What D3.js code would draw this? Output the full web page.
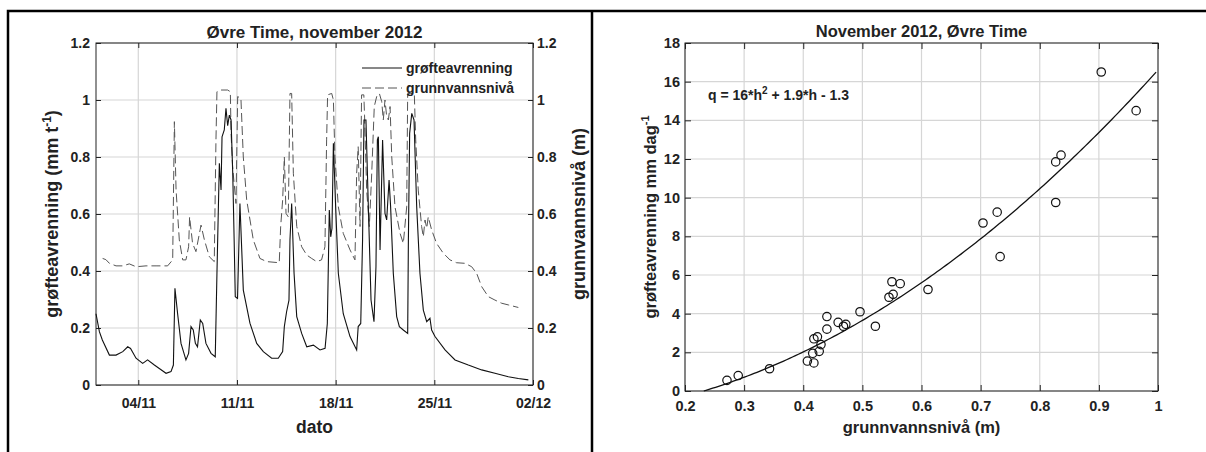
<!DOCTYPE html>
<html lang="no">
<head>
<meta charset="UTF-8">
<title>Øvre Time, november 2012</title>
<script src="https://d3js.org/d3.v7.min.js"></script>
<style>
  body { margin: 0; background: #fff; }
  svg text { font-family: "Liberation Sans", Arial, sans-serif; font-weight: bold; fill: #222; }
</style>
</head>
<body>
<div id="chart"></div>
<script>
// ---- data ----
// time series: days after 1 Nov 2012 00:00
const drainDays = [0.00, 0.24, 0.45, 0.95, 1.42, 1.90, 2.25, 2.45, 2.84, 3.31, 3.66, 4.14, 4.49, 4.97, 5.32, 5.49, 5.60, 5.79, 6.03, 6.38,
  6.57, 6.74, 6.90, 7.05, 7.20, 7.40, 7.57, 7.80, 8.16, 8.46, 8.58, 8.75, 8.87, 8.94, 9.10, 9.22, 9.34, 9.46, 9.58, 9.70,
  9.80, 9.88, 10.04, 10.21, 10.45, 10.92, 11.40, 11.87, 12.46, 12.93, 13.24, 13.36, 13.52, 13.69, 13.76, 13.88, 14.05, 14.24, 14.59, 14.95,
  15.42, 15.89, 16.25, 16.41, 16.55, 16.65, 16.74, 16.84, 17.00, 17.19, 17.54, 18.02, 18.49, 18.60, 18.78, 18.91, 19.01, 19.15, 19.32, 19.51,
  19.72, 19.86, 19.96, 20.03, 20.15, 20.33, 20.50, 20.62, 20.79, 20.90, 21.09, 21.33, 21.52, 21.80, 22.11, 22.16, 22.25, 22.40, 22.56, 22.75,
  22.98, 23.22, 23.46, 23.69, 23.81, 24.05, 24.76, 25.47, 26.41, 27.36, 28.30, 29.25, 29.96, 30.67];
const drainVals = [0.250, 0.187, 0.158, 0.105, 0.105, 0.117, 0.134, 0.128, 0.094, 0.076, 0.088, 0.070, 0.058, 0.041, 0.047, 0.070, 0.339, 0.250, 0.146, 0.088,
  0.111, 0.205, 0.193, 0.146, 0.134, 0.228, 0.216, 0.146, 0.111, 0.099, 0.392, 0.778, 0.684, 0.871, 0.895, 0.971, 0.910, 0.947, 0.930, 0.743,
  0.509, 0.310, 0.304, 0.637, 0.333, 0.217, 0.146, 0.117, 0.094, 0.094, 0.117, 0.205, 0.257, 0.298, 0.509, 0.637, 0.392, 0.240, 0.181, 0.134,
  0.140, 0.123, 0.129, 0.216, 0.614, 0.520, 0.550, 0.848, 0.625, 0.392, 0.250, 0.170, 0.123, 0.205, 0.216, 0.509, 0.930, 0.930, 0.625, 0.298,
  0.222, 0.415, 0.860, 0.871, 0.474, 0.860, 0.602, 0.579, 0.719, 0.625, 0.392, 0.240, 0.205, 0.193, 0.181, 0.509, 0.883, 0.953, 0.930, 0.625,
  0.392, 0.263, 0.222, 0.234, 0.193, 0.170, 0.123, 0.088, 0.070, 0.053, 0.041, 0.029, 0.023, 0.018];

const gwDays = [0.47, 0.70, 0.95, 1.42, 1.90, 2.36, 2.84, 3.55, 4.26, 5.08, 5.44, 5.56, 5.68, 5.91, 6.15, 6.38, 6.57, 6.64, 6.85, 7.09,
  7.45, 7.69, 8.04, 8.39, 8.51, 8.58, 8.87, 9.34, 9.53, 9.58, 9.69, 9.93, 10.05, 10.28, 10.45, 10.69, 11.16, 11.63, 12.10, 13.00,
  13.10, 13.24, 13.36, 13.48, 13.64, 13.76, 13.88, 14.00, 14.24, 14.59, 14.95, 15.30, 15.65, 16.00, 16.24, 16.36, 16.43, 16.72, 16.84, 16.95,
  17.19, 17.54, 18.02, 18.37, 18.49, 18.60, 18.73, 18.84, 19.00, 19.05, 19.20, 19.39, 19.56, 19.74, 19.91, 20.10, 20.27, 20.38, 20.50, 20.62,
  20.74, 20.86, 20.98, 21.21, 21.57, 21.80, 22.04, 22.11, 22.30, 22.58, 22.68, 22.86, 23.10, 23.22, 23.34, 23.46, 23.57, 23.81, 24.16, 24.64,
  25.11, 25.58, 26.17, 26.65, 27.00, 27.36, 27.83, 28.30, 28.77, 29.25, 29.96];
const gwVals = [0.444, 0.440, 0.427, 0.418, 0.418, 0.425, 0.415, 0.418, 0.418, 0.418, 0.439, 0.924, 0.684, 0.509, 0.439, 0.439, 0.485, 0.590, 0.497, 0.468,
  0.561, 0.509, 0.450, 0.433, 0.860, 1.029, 1.035, 1.035, 1.029, 0.883, 0.766, 0.637, 1.012, 1.006, 0.800, 0.649, 0.509, 0.444, 0.433, 0.429,
  0.556, 0.649, 0.800, 0.602, 0.590, 1.023, 1.023, 0.743, 0.556, 0.485, 0.456, 0.444, 0.433, 0.439, 0.485, 0.860, 1.018, 1.023, 1.000, 0.800,
  0.625, 0.532, 0.474, 0.439, 0.743, 0.836, 0.556, 1.018, 1.018, 0.947, 0.684, 0.556, 0.743, 0.977, 1.012, 1.023, 0.994, 0.930, 1.000, 0.942,
  0.930, 0.977, 0.800, 0.625, 0.532, 0.497, 0.625, 1.023, 1.023, 1.023, 0.860, 0.684, 0.556, 0.520, 0.579, 0.550, 0.590, 0.544, 0.497, 0.462,
  0.439, 0.429, 0.427, 0.415, 0.392, 0.345, 0.310, 0.298, 0.287, 0.281, 0.272];

const levelTicks = [0, 0.2, 0.4, 0.6, 0.8, 1, 1.2];
const dateTicks = ["2012-11-04", "2012-11-11", "2012-11-18", "2012-11-25", "2012-12-02"];

// scatter: grunnvannsnivå (m) vs grøfteavrenning (mm/dag)
const levelH = [0.271, 0.290, 0.343, 0.407, 0.416, 0.418, 0.418, 0.424, 0.427, 0.430, 0.440, 0.440, 0.459, 0.468, 0.472,
  0.496, 0.522, 0.545, 0.550, 0.552, 0.564, 0.611, 0.704, 0.728, 0.733, 0.827, 0.827, 0.836, 0.904, 0.963];
const runoffQ = [0.55, 0.80, 1.15, 1.55, 1.95, 1.45, 2.70, 2.80, 2.05, 2.40, 3.85, 3.20, 3.55, 3.35, 3.45,
  4.10, 3.35, 4.85, 5.65, 5.00, 5.55, 5.25, 8.69, 9.25, 6.95, 9.75, 11.85, 12.20, 16.50, 14.50];
const fitCoef = [16, 1.9, -1.3]; // q = a*h^2 + b*h + c
const hTicks = [0.2, 0.3, 0.4, 0.5, 0.6, 0.7, 0.8, 0.9, 1];
const qTicks = [0, 2, 4, 6, 8, 10, 12, 14, 16, 18];

const W = 1206, H = 452;
const svg = d3.select("#chart").append("svg").attr("width", W).attr("height", H);

// panel frames
svg.append("path")
  .attr("d", `M8,${H} V11 H${W} M592,11 V${H}`)
  .attr("fill", "none").attr("stroke", "#000").attr("stroke-width", 2.5);

function styleAxis(g, size) {
  g.attr("font-size", size).attr("font-family", null);
  g.select(".domain").remove();
  g.selectAll(".tick line").attr("stroke", "#222");
}

// ---------- left: time series ----------
const L = { left: 96, right: 533, top: 43, bottom: 385 };
const t0 = Date.UTC(2012, 10, 1);
const toDate = d => new Date(t0 + d * 864e5);
const tickDates = dateTicks.map(s => new Date(s + "T00:00:00Z"));

const x = d3.scaleUtc().domain([toDate(0), new Date(Date.UTC(2012, 11, 2))]).range([L.left, L.right]);
const y = d3.scaleLinear().domain([0, 1.2]).range([L.bottom, L.top]);

// grid
const gl = svg.append("g").attr("stroke", "#d6d6d6").attr("stroke-width", 1.2);
gl.selectAll(".gx").data(tickDates).join("line")
  .attr("x1", d => x(d)).attr("x2", d => x(d)).attr("y1", L.top).attr("y2", L.bottom);
gl.selectAll(".gy").data(levelTicks).join("line")
  .attr("x1", L.left).attr("x2", L.right).attr("y1", d => y(d)).attr("y2", d => y(d));

svg.append("g").attr("transform", `translate(0,${L.bottom})`)
  .call(d3.axisBottom(x).tickValues(tickDates).tickFormat(d3.utcFormat("%d/%m")).tickSize(-5).tickPadding(13))
  .call(g => styleAxis(g, 14));
svg.append("g").attr("transform", `translate(0,${L.top})`)
  .call(d3.axisTop(x).tickValues(tickDates).tickFormat("").tickSize(-5))
  .call(g => styleAxis(g, 14));
svg.append("g").attr("transform", `translate(${L.left},0)`)
  .call(d3.axisLeft(y).tickValues(levelTicks).tickFormat(d3.format("~g")).tickSize(-5).tickPadding(6))
  .call(g => styleAxis(g, 14));
svg.append("g").attr("transform", `translate(${L.right},0)`)
  .call(d3.axisRight(y).tickValues(levelTicks).tickFormat(d3.format("~g")).tickSize(-5).tickPadding(4))
  .call(g => styleAxis(g, 14));

svg.append("rect")
  .attr("x", L.left).attr("y", L.top).attr("width", L.right - L.left).attr("height", L.bottom - L.top)
  .attr("fill", "none").attr("stroke", "#222").attr("stroke-width", 1);

const drain = drainDays.map((d, i) => ({ date: toDate(d), v: drainVals[i] }));
const gw = gwDays.map((d, i) => ({ date: toDate(d), v: gwVals[i] }));
const line = d3.line().x(d => x(d.date)).y(d => y(d.v));

svg.append("path").datum(gw).attr("d", line)
  .attr("fill", "none").attr("stroke", "#555").attr("stroke-width", 1).attr("stroke-dasharray", "9,4");
svg.append("path").datum(drain).attr("d", line)
  .attr("fill", "none").attr("stroke", "#111").attr("stroke-width", 1.1);

// legend
const legend = [
  { name: "grøfteavrenning", dash: null, color: "#111" },
  { name: "grunnvannsnivå", dash: "9,4", color: "#555" }
];
const lg = svg.append("g").attr("transform", "translate(362,68)");
legend.forEach((d, i) => {
  lg.append("line").attr("x1", 0).attr("x2", 40).attr("y1", i * 20).attr("y2", i * 20)
    .attr("stroke", d.color).attr("stroke-width", 1).attr("stroke-dasharray", d.dash);
  lg.append("text").attr("x", 44).attr("y", i * 20 + 5).attr("font-size", 14).text(d.name);
});

svg.append("text").attr("x", (L.left + L.right) / 2).attr("y", 38).attr("text-anchor", "middle")
  .attr("font-size", 17).text("Øvre Time, november 2012");
svg.append("text").attr("x", (L.left + L.right) / 2).attr("y", 433).attr("text-anchor", "middle")
  .attr("font-size", 17.5).text("dato");

const yl = svg.append("text").attr("transform", `translate(58,${(L.top + L.bottom) / 2}) rotate(-90)`)
  .attr("text-anchor", "middle").attr("font-size", 18);
yl.append("tspan").text("grøfteavrenning (mm t");
yl.append("tspan").attr("dy", -7).attr("font-size", 12).text("-1");
yl.append("tspan").attr("dy", 7).text(")");

svg.append("text").attr("transform", `translate(585,${(L.top + L.bottom) / 2}) rotate(-90)`)
  .attr("text-anchor", "middle").attr("font-size", 18).text("grunnvannsnivå (m)");

// ---------- right: scatter ----------
const R = { left: 685, right: 1158, top: 43, bottom: 391 };
const xs = d3.scaleLinear().domain([0.2, 1]).range([R.left, R.right]);
const ys = d3.scaleLinear().domain([0, 18]).range([R.bottom, R.top]);

const gr = svg.append("g").attr("stroke", "#d6d6d6").attr("stroke-width", 1.2);
gr.selectAll(".gx").data(hTicks).join("line")
  .attr("x1", d => xs(d)).attr("x2", d => xs(d)).attr("y1", R.top).attr("y2", R.bottom);
gr.selectAll(".gy").data(qTicks).join("line")
  .attr("x1", R.left).attr("x2", R.right).attr("y1", d => ys(d)).attr("y2", d => ys(d));

svg.append("g").attr("transform", `translate(0,${R.bottom})`)
  .call(d3.axisBottom(xs).tickValues(hTicks).tickFormat(d3.format("~g")).tickSize(-6).tickPadding(10))
  .call(g => styleAxis(g, 14.5));
svg.append("g").attr("transform", `translate(0,${R.top})`)
  .call(d3.axisTop(xs).tickValues(hTicks).tickFormat("").tickSize(-6))
  .call(g => styleAxis(g, 14.5));
svg.append("g").attr("transform", `translate(${R.left},0)`)
  .call(d3.axisLeft(ys).tickValues(qTicks).tickSize(-6).tickPadding(5))
  .call(g => styleAxis(g, 14.5));
svg.append("g").attr("transform", `translate(${R.right},0)`)
  .call(d3.axisRight(ys).tickValues(qTicks).tickFormat("").tickSize(-6))
  .call(g => styleAxis(g, 14.5));

svg.append("rect")
  .attr("x", R.left).attr("y", R.top).attr("width", R.right - R.left).attr("height", R.bottom - R.top)
  .attr("fill", "none").attr("stroke", "#222").attr("stroke-width", 1);

// fitted curve
const fit = h => fitCoef[0] * h * h + fitCoef[1] * h + fitCoef[2];
const hStart = (-fitCoef[1] + Math.sqrt(fitCoef[1] ** 2 - 4 * fitCoef[0] * fitCoef[2])) / (2 * fitCoef[0]);
const curve = d3.range(hStart, 1.0001, 0.005).map(h => [h, fit(h)]);
svg.append("path").datum(curve)
  .attr("d", d3.line().x(d => xs(d[0])).y(d => ys(d[1])))
  .attr("fill", "none").attr("stroke", "#111").attr("stroke-width", 1.3);

svg.append("g").selectAll("circle")
  .data(levelH.map((h, i) => [h, runoffQ[i]]))
  .join("circle")
  .attr("cx", d => xs(d[0])).attr("cy", d => ys(d[1])).attr("r", 4.2)
  .attr("fill", "none").attr("stroke", "#111").attr("stroke-width", 1.2);

const eq = svg.append("text").attr("x", 708).attr("y", 100).attr("font-size", 14);
eq.append("tspan").text("q = 16*h");
eq.append("tspan").attr("dy", -6).attr("font-size", 10).text("2");
eq.append("tspan").attr("dy", 6).text(" + 1.9*h - 1.3");

svg.append("text").attr("x", (R.left + R.right) / 2).attr("y", 37).attr("text-anchor", "middle")
  .attr("font-size", 16.5).text("November 2012, Øvre Time");
svg.append("text").attr("x", (R.left + R.right) / 2).attr("y", 433).attr("text-anchor", "middle")
  .attr("font-size", 16.5).text("grunnvannsnivå (m)");

const yr = svg.append("text").attr("transform", `translate(656,${(R.top + R.bottom) / 2}) rotate(-90)`)
  .attr("text-anchor", "middle").attr("font-size", 16.5);
yr.append("tspan").text("grøfteavrenning mm dag");
yr.append("tspan").attr("dy", -7).attr("font-size", 11).text("-1");
</script>
</body>
</html>
